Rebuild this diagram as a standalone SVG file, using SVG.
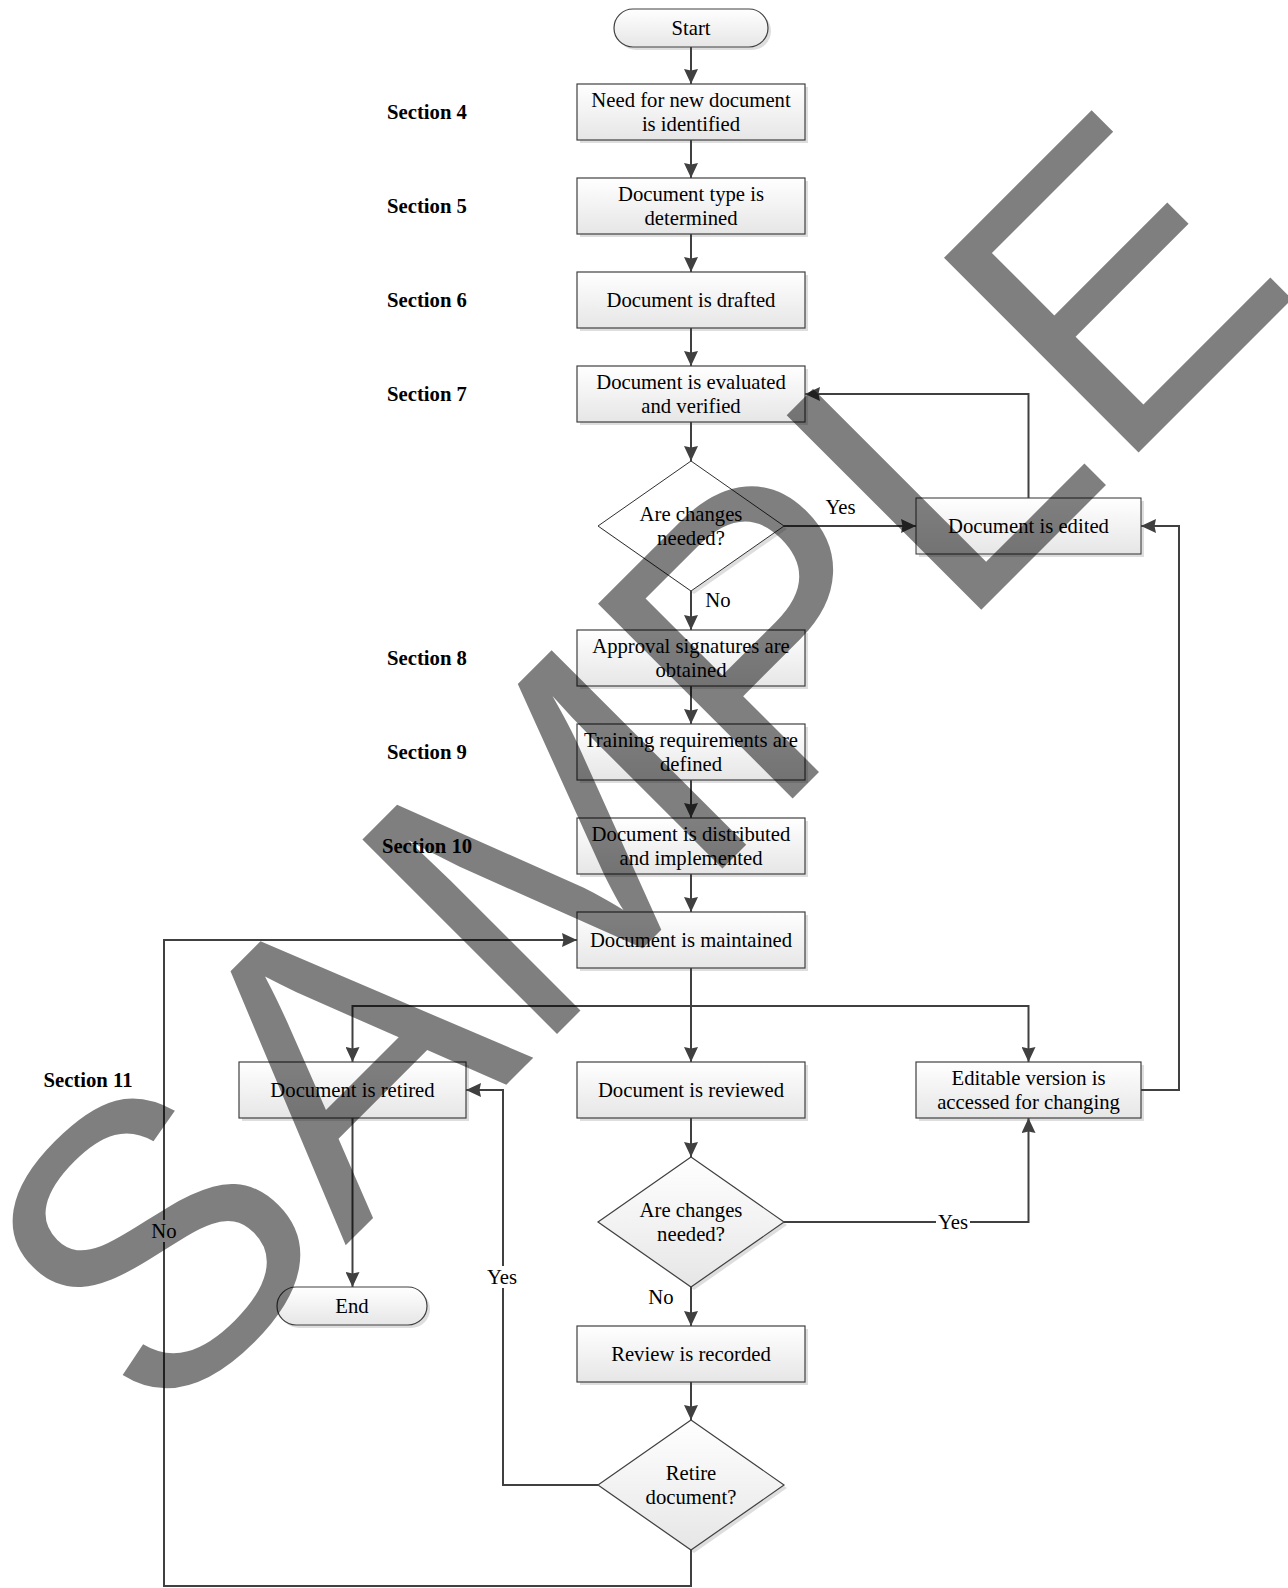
<svg xmlns="http://www.w3.org/2000/svg" width="1288" height="1588" viewBox="0 0 1288 1588">
<style>
.box{fill:url(#grad);stroke:#404040;stroke-width:1.2}
.shadow{fill:#dedede}
.t{font-family:"Liberation Serif","Times New Roman",serif;font-size:20.7px;fill:#000;text-anchor:middle}
.sec{font-family:"Liberation Serif","Times New Roman",serif;font-size:20.7px;font-weight:bold;fill:#000;text-anchor:middle}
.c{fill:none;stroke:#404040;stroke-width:2}
.a{marker-end:url(#arr)}
.lbl{font-family:"Liberation Serif","Times New Roman",serif;font-size:20.7px;fill:#000;text-anchor:middle}
</style>
<defs>
<linearGradient id="grad" x1="0" y1="0" x2="0" y2="1">
<stop offset="0" stop-color="#ffffff"/>
<stop offset="1" stop-color="#e6e6e6"/>
</linearGradient>
<marker id="arr" markerWidth="16" markerHeight="14" refX="15" refY="7" orient="auto" markerUnits="userSpaceOnUse">
<path d="M0,0 L15,7 L0,14 L1.5,7 z" fill="#404040"/>
</marker>
</defs>
<rect width="1288" height="1588" fill="#fff"/>

<g id="section-labels">
<text class="sec" x="427" y="119">Section 4</text>
<text class="sec" x="427" y="213">Section 5</text>
<text class="sec" x="427" y="307">Section 6</text>
<text class="sec" x="427" y="401">Section 7</text>
<text class="sec" x="427" y="665">Section 8</text>
<text class="sec" x="427" y="759">Section 9</text>
<text class="sec" x="427" y="853">Section 10</text>
<text class="sec" x="88" y="1087">Section 11</text>
</g>

<g id="start">
<rect class="shadow" x="617" y="12" width="154" height="38" rx="19"/>
<rect class="box" x="614" y="9" width="154" height="38" rx="19"/>
<text class="t" x="691" y="35">Start</text>
</g>
<g id="n1">
<rect class="shadow" x="580" y="87" width="228" height="56"/>
<rect class="box" x="577" y="84" width="228" height="56"/>
<text class="t" x="691" y="107">Need for new document</text>
<text class="t" x="691" y="131">is identified</text>
</g>
<g id="n2">
<rect class="shadow" x="580" y="181" width="228" height="56"/>
<rect class="box" x="577" y="178" width="228" height="56"/>
<text class="t" x="691" y="201">Document type is</text>
<text class="t" x="691" y="225">determined</text>
</g>
<g id="n3">
<rect class="shadow" x="580" y="275" width="228" height="56"/>
<rect class="box" x="577" y="272" width="228" height="56"/>
<text class="t" x="691" y="307">Document is drafted</text>
</g>
<g id="n4">
<rect class="shadow" x="580" y="369" width="228" height="56"/>
<rect class="box" x="577" y="366" width="228" height="56"/>
<text class="t" x="691" y="389">Document is evaluated</text>
<text class="t" x="691" y="413">and verified</text>
</g>
<g id="d1">
<polygon class="shadow" points="694,464 787,529 694,594 601,529"/>
<polygon points="691,461 784,526 691,591 598,526" fill="#fff" stroke="#303030" stroke-width="1"/>
<text class="t" x="691" y="521">Are changes</text>
<text class="t" x="691" y="545">needed?</text>
</g>
<g id="edited">
<rect class="shadow" x="919" y="501" width="225" height="56"/>
<rect class="box" x="916" y="498" width="225" height="56" style="stroke:#303030;stroke-width:1"/>
<text class="t" x="1028.5" y="533">Document is edited</text>
</g>
<g id="n5">
<rect class="shadow" x="580" y="633" width="228" height="56"/>
<rect class="box" x="577" y="630" width="228" height="56"/>
<text class="t" x="691" y="653">Approval signatures are</text>
<text class="t" x="691" y="677">obtained</text>
</g>
<g id="n6">
<rect class="shadow" x="580" y="727" width="228" height="56"/>
<rect class="box" x="577" y="724" width="228" height="56"/>
<text class="t" x="691" y="747" font-size="20.4">Training requirements are</text>
<text class="t" x="691" y="771">defined</text>
</g>
<g id="n7">
<rect class="shadow" x="580" y="821" width="228" height="56"/>
<rect class="box" x="577" y="818" width="228" height="56"/>
<text class="t" x="691" y="841">Document is distributed</text>
<text class="t" x="691" y="865">and implemented</text>
</g>
<g id="n8">
<rect class="shadow" x="580" y="915" width="228" height="56"/>
<rect class="box" x="577" y="912" width="228" height="56"/>
<text class="t" x="691" y="947">Document is maintained</text>
</g>
<g id="retired">
<rect class="shadow" x="242" y="1065" width="227" height="56"/>
<rect class="box" x="239" y="1062" width="227" height="56"/>
<text class="t" x="352.5" y="1097">Document is retired</text>
</g>
<g id="reviewed">
<rect class="shadow" x="580" y="1065" width="228" height="56"/>
<rect class="box" x="577" y="1062" width="228" height="56"/>
<text class="t" x="691" y="1097">Document is reviewed</text>
</g>
<g id="editable">
<rect class="shadow" x="919" y="1065" width="225" height="56"/>
<rect class="box" x="916" y="1062" width="225" height="56"/>
<text class="t" x="1028.5" y="1085">Editable version is</text>
<text class="t" x="1028.5" y="1109">accessed for changing</text>
</g>
<g id="end">
<rect class="shadow" x="280" y="1290" width="150" height="38" rx="19"/>
<rect class="box" x="277" y="1287" width="150" height="38" rx="19"/>
<text class="t" x="352" y="1313">End</text>
</g>
<g id="d2">
<polygon class="shadow" points="694,1160 787,1225 694,1290 601,1225"/>
<polygon class="box" points="691,1157 784,1222 691,1287 598,1222"/>
<text class="t" x="691" y="1217">Are changes</text>
<text class="t" x="691" y="1241">needed?</text>
</g>
<g id="recorded">
<rect class="shadow" x="580" y="1329" width="228" height="56"/>
<rect class="box" x="577" y="1326" width="228" height="56"/>
<text class="t" x="691" y="1361">Review is recorded</text>
</g>
<g id="d3">
<polygon class="shadow" points="694,1423 787,1488 694,1553 601,1488"/>
<polygon class="box" points="691,1420 784,1485 691,1550 598,1485"/>
<text class="t" x="691" y="1480">Retire</text>
<text class="t" x="691" y="1504">document?</text>
</g>

<g id="connectors">
<path class="c a" d="M691,47 V84"/>
<path class="c a" d="M691,140 V178"/>
<path class="c a" d="M691,234 V272"/>
<path class="c a" d="M691,328 V366"/>
<path class="c a" d="M691,422 V461"/>
<path class="c a" d="M784,526 H916"/>
<path class="c a" d="M1028.5,498 V394 H805"/>
<path class="c a" d="M691,591 V630"/>
<path class="c a" d="M691,686 V724"/>
<path class="c a" d="M691,780 V818"/>
<path class="c a" d="M691,874 V912"/>
<path class="c a" d="M691,968 V1062"/>
<path class="c a" d="M691,1006 H352.5 V1062"/>
<path class="c a" d="M691,1006 H1028.5 V1062"/>
<path class="c a" d="M691,1118 V1157"/>
<path class="c a" d="M784,1222 H1028.5 V1118"/>
<path class="c a" d="M1141,1090 H1179 V526 H1141"/>
<path class="c a" d="M691,1287 V1326"/>
<path class="c a" d="M691,1382 V1420"/>
<path class="c a" d="M598,1485 H503 V1090 H466"/>
<path class="c a" d="M352.5,1118 V1287"/>
<path class="c a" d="M691,1550 V1586 H164 V940 H577"/>
<rect x="936" y="1211" width="34" height="22" fill="#fff"/>
<rect x="485" y="1266" width="34" height="22" fill="#fff"/>
<rect x="151" y="1220" width="26" height="22" fill="#fff"/>
<text class="lbl" x="840.5" y="514">Yes</text>
<text class="lbl" x="718" y="607">No</text>
<text class="lbl" x="953" y="1229">Yes</text>
<text class="lbl" x="661" y="1304">No</text>
<text class="lbl" x="502" y="1284">Yes</text>
<text class="lbl" x="164" y="1238">No</text>
</g>

<g id="watermark">
<text x="0" y="0" transform="translate(156.5,1434.5) rotate(-45)" font-family="'Liberation Sans',Arial,sans-serif" font-size="400" fill="#000" fill-opacity="0.5">SAMPLE</text>
</g>
</svg>
